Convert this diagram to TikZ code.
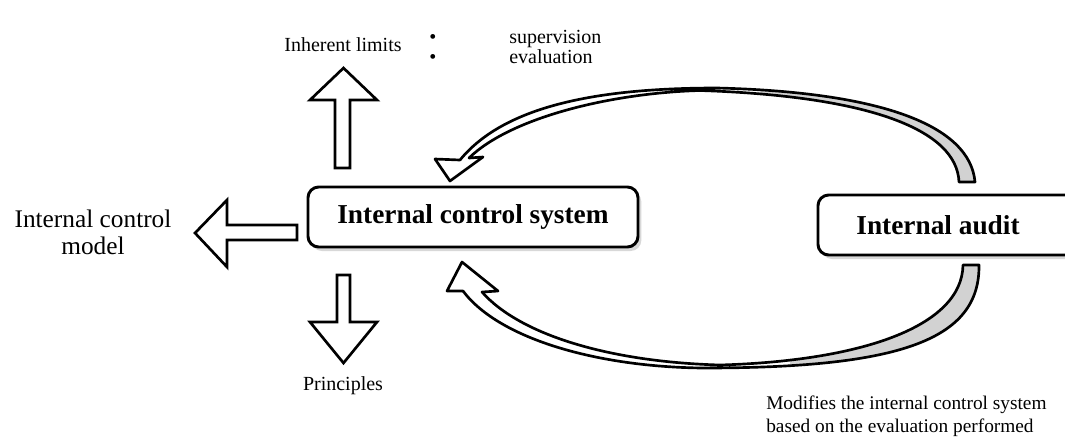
\documentclass[tikz,border=0pt]{standalone}
\usepackage{fontspec}
\setmainfont{Liberation Serif}
\usetikzlibrary{shadows}
\begin{document}
\begin{tikzpicture}[x=0.75pt,y=-0.75pt,
  box/.style={draw, line width=2.2pt, rounded corners=8pt, fill=white,
    drop shadow={shadow xshift=2.5pt, shadow yshift=-3pt, opacity=0.3}},
  boxtext/.style={font=\bfseries\fontsize{20.5}{24}\selectfont, inner sep=0pt},
  blockarrow/.style={draw, line width=2pt, fill=white, line join=miter},
  curvedarrow/.style={draw, line width=2pt, line join=round},
  lbl/.style={font=\fontsize{15}{20}\selectfont, align=center, inner sep=0pt},
  bul/.style={font=\fontsize{15}{15}\selectfont, anchor=west, align=left, inner sep=0pt},
  backside/.style={fill=gray!35}]
\clip (0,0) rectangle (1065,444);
\fill[white] (0,0) rectangle (1065,444);

% boxes
\node[box, minimum width=247.5pt, minimum height=45pt] (ics) at (473,217) {};
\node[boxtext] (icslbl) at (ics.center) {Internal control system};
\node[box, minimum width=211.5pt, minimum height=45pt] (audit) at (959,225) {};
\node[boxtext] (auditlbl) at (938,225) {Internal audit};

% straight block arrows
\draw[blockarrow] (335,168) -- (335,100) -- (310,100) -- (343.5,68) -- (377,100) -- (350,100) -- (350,168) -- cycle;
\draw[blockarrow] (337,275) -- (337,322) -- (310,322) -- (343.5,363) -- (377,322) -- (350,322) -- (350,275) -- cycle;
\draw[blockarrow] (297,225) -- (227,225) -- (227,200) -- (195,233) -- (227,267) -- (227,240) -- (297,240) -- cycle;

% top curved arrow (audit -> ics)
\path[save path=\toppath] (975,182) .. controls (970,125) and (880,92) .. (717,88)
  .. controls (600,88) and (505,105) .. (460,160) -- (435,159) -- (450,181) -- (483,157) -- (469,158)
  .. controls (510,118) and (610,93) .. (700,90.5)
  .. controls (870,96) and (957,130) .. (959,182) -- cycle;
\path[use path=\toppath, fill=white];
\begin{scope}
  \clip (760,0) rectangle (1065,444);
  \path[use path=\toppath, backside];
\end{scope}
\path[use path=\toppath, curvedarrow];

% bottom curved arrow (audit -> ics)
\path[save path=\botpath] (979,265) .. controls (980,340) and (900,368) .. (703,368)
  .. controls (600,367) and (500,340) .. (463,291) -- (447,291) -- (462,262) -- (498,291) -- (482,292)
  .. controls (520,335) and (610,362) .. (720,365)
  .. controls (860,361) and (962,327) .. (963,265) -- cycle;
\path[use path=\botpath, fill=white];
\begin{scope}
  \clip (790,0) rectangle (1065,444);
  \path[use path=\botpath, backside];
\end{scope}
\path[use path=\botpath, curvedarrow];

% labels
\node[lbl] (limits) at (343,45) {Inherent limits};
\node[lbl] (principles) at (343,386) {Principles};
\node[lbl, font=\fontsize{19}{20.25}\selectfont] (model) at (93,232) {Internal control\\model};
\node[bul] (items) at (429,47) {\makebox[60pt][l]{•}supervision\\\makebox[60pt][l]{•}evaluation};
\node[lbl, align=left, anchor=north west, font=\fontsize{14.5}{17.25}\selectfont] (modifies) at (766,396)
  {Modifies the internal control system\\based on the evaluation performed};
\end{tikzpicture}
\end{document}
